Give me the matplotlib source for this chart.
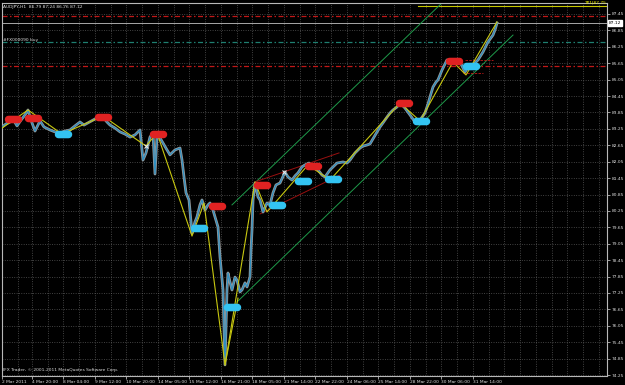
import numpy as np
import matplotlib
matplotlib.use("Agg")
import matplotlib.pyplot as plt
from matplotlib.path import Path
from matplotlib import font_manager

# ---------------- data ----------------
close_x = [2, 6, 10, 13, 17, 21, 25, 28, 31, 35, 40, 44, 50, 55, 60, 65, 70, 75, 80, 84, 88, 93, 97,
           103, 107, 110, 115, 120, 125, 130, 135, 140, 143, 146, 150, 153, 155, 157, 160, 163, 167,
           170, 175, 180, 182, 184, 186, 189, 192, 195, 197, 200, 202, 205, 208, 210, 213, 215, 218,
           220, 223, 225, 227, 228, 230, 232, 235, 237, 240, 242, 245, 247, 250, 251, 252, 253, 255,
           258, 260, 263, 267, 270, 273, 276, 280, 285, 288, 292, 295, 298, 302, 305, 309, 312, 315,
           318, 322, 325, 330, 334, 337, 343, 347, 350, 355, 360, 363, 367, 370, 374, 377, 380, 383,
           387, 390, 393, 397, 400, 405, 410, 415, 420, 425, 428, 430, 433, 436, 438, 442, 447, 450,
           453, 457, 460, 463, 465, 468, 471, 473, 478, 483, 486, 488, 493, 495, 497]
close_p = [83.32, 83.43, 83.50, 83.61, 83.36, 83.57, 83.76, 83.94, 83.57, 83.17, 83.54, 83.32, 83.21,
           83.14, 83.10, 83.17, 83.21, 83.36, 83.50, 83.39, 83.47, 83.57, 83.65, 83.68, 83.50, 83.39,
           83.28, 83.14, 83.06, 82.95, 83.03, 83.21, 82.11, 82.37, 82.95, 83.10, 81.60, 82.99, 82.92,
           82.73, 82.48, 82.30, 82.48, 82.55, 82.11, 81.49, 80.91, 80.65, 79.44, 79.85, 80.03, 80.47,
           80.65, 80.28, 80.47, 80.54, 80.28, 80.03, 79.66, 78.57, 77.36, 74.62, 77.36, 77.98, 77.65,
           77.36, 77.83, 77.72, 77.29, 77.36, 77.62, 77.47, 77.83, 78.82, 79.55, 80.65, 81.27, 80.76,
           80.65, 80.21, 80.54, 80.47, 80.91, 81.20, 81.27, 81.67, 81.49, 81.38, 81.53, 81.64, 81.86,
           81.93, 82.00, 81.82, 81.82, 81.75, 81.56, 81.49, 81.75, 81.89, 82.00, 82.04, 82.00, 82.11,
           82.37, 82.55, 82.62, 82.66, 82.70, 82.95, 83.14, 83.32, 83.47, 83.68, 83.83, 83.94, 84.05,
           84.20, 84.01, 83.76, 83.50, 83.57, 83.83, 84.16, 84.42, 84.78, 84.96, 85.04, 85.40, 85.77,
           85.70, 85.66, 85.77, 85.70, 85.48, 85.33, 85.51, 85.55, 85.59, 85.77, 86.06, 86.28, 86.43,
           86.68, 86.87, 87.12]

zigzag_x = [2, 28, 62, 103, 146, 157, 192, 204, 225, 255, 267, 308, 330, 400, 420, 453, 466, 497]
zigzag_p = [83.28, 83.94, 83.06, 83.72, 82.62, 83.10, 79.33, 80.54, 74.62, 81.31, 80.21, 81.93,
            81.38, 84.20, 83.54, 85.70, 85.22, 87.16]
zz_extra_x = [225, 238]
zz_extra_p = [74.62, 77.06]

red_x = [13, 33, 103, 158, 217, 262, 313, 404, 454]
red_p = [83.61, 83.65, 83.68, 83.06, 80.43, 81.20, 81.89, 84.20, 85.73]
cyan_x = [63, 199, 232, 277, 303, 333, 421, 471]
cyan_p = [83.06, 79.63, 76.74, 80.47, 81.34, 81.42, 83.54, 85.55]
cross_x = [146, 284]
cross_p = [82.62, 81.67]

green_up_x = [232, 470]
green_up_p = [80.47, 88.84]
green_lo_x = [237, 513]
green_lo_p = [76.92, 86.68]
redch_up_x = [255, 339]
redch_up_p = [81.31, 82.37]
redch_lo_x = [260, 340]
redch_lo_p = [80.14, 81.56]
short_red = [([465, 493], 85.77), ([463, 483], 85.29)]

level_red_top = 87.38
level_bid = 87.12
level_order = 86.43
level_sl = 85.55
level_tp = 87.74
tp_start = 418

ytick_vals = [74.25 + 0.6 * i for i in range(23)]
xtick_pos = [2, 32, 63, 95, 126, 158, 189, 221, 252, 284, 315, 347, 378, 410, 441, 473]
xtick_lab = ["2 Mar 2011", "4 Mar 20:00", "8 Mar 04:00", "9 Mar 12:00", "10 Mar 20:00",
             "14 Mar 05:00", "15 Mar 12:00", "16 Mar 21:00", "18 Mar 05:00", "21 Mar 14:00",
             "22 Mar 22:00", "24 Mar 06:00", "25 Mar 14:00", "28 Mar 22:00", "30 Mar 06:00",
             "31 Mar 14:00"]

# font: narrow if available
names = {f.name for f in font_manager.fontManager.ttflist}
fam = ["Liberation Sans Narrow", "DejaVu Sans"] if "Liberation Sans Narrow" in names else ["DejaVu Sans"]
plt.rcParams["font.family"] = fam
FS = 4.0 if fam[0] == "Liberation Sans Narrow" else 3.2
TXT = "#dcdcdc"

# ---------------- figure ----------------
fig = plt.figure(figsize=(6.25, 3.85), dpi=100, facecolor="black")
ax = fig.add_axes([2 / 625, 9 / 385, 605 / 625, 373 / 385], facecolor="black")
ax.set_xlim(2, 607)
ax.set_ylim(74.214, 87.852)

grid_c = "#6a6a6a"
minor_x = [p + 15.7 for p in xtick_pos] + [504, 520, 536, 551.5, 567, 583, 599]
for gx in xtick_pos + minor_x:
    ax.axvline(gx, color=grid_c, lw=0.5, ls=(0, (1.2, 2.2)), zorder=0)
for gy in ytick_vals:
    ax.axhline(gy, color=grid_c, lw=0.5, ls=(0, (1.2, 2.2)), zorder=0)

# horizontal levels
ax.axhline(level_red_top, color="#c01818", lw=0.9, ls=(0, (4, 2, 1.2, 2)), zorder=1)
ax.axhline(level_bid, color="#a8a8a8", lw=0.7, zorder=1)
ax.axhline(level_order, color="#1f7f70", lw=0.9, ls=(0, (4, 2, 1.2, 2)), zorder=1)
ax.axhline(level_sl, color="#c01818", lw=0.9, ls=(0, (4, 2, 1.2, 2)), zorder=1)
ax.plot([tp_start, 607], [level_tp, level_tp], color="#c8c800", lw=0.8, zorder=1)

# trend / channel lines
ax.plot(green_up_x, green_up_p, color="#1e9a4a", lw=0.7, zorder=2)
ax.plot(green_lo_x, green_lo_p, color="#1e9a4a", lw=0.7, zorder=2)
ax.plot(redch_up_x, redch_up_p, color="#9a1010", lw=0.7, zorder=2)
ax.plot(redch_lo_x, redch_lo_p, color="#9a1010", lw=0.7, zorder=2)
for xs, pv in short_red:
    ax.plot(xs, [pv, pv], color="#c01818", lw=0.6, ls=(0, (3, 1.5)), zorder=2)

# price
ax.plot(close_x, close_p, color="#9a9a9a", lw=2.0, zorder=3)
ax.plot(close_x, close_p, color="#2f8fc0", lw=0.9, zorder=4)
ax.plot(zigzag_x, zigzag_p, color="#c8c810", lw=0.8, zorder=5)
ax.plot(zz_extra_x, zz_extra_p, color="#c8c810", lw=0.8, zorder=5)

# blob markers
t = np.linspace(-np.pi / 2, np.pi / 2, 12)
right = np.column_stack([1.6 + np.cos(t), np.sin(t)])
left = np.column_stack([-1.6 - np.cos(t), -np.sin(t)])
verts = np.vstack([right, left, right[:1]])
blob = Path(verts, closed=True)
ax.plot(red_x, red_p, ls="none", marker=blob, ms=11.5, mfc="#e02222", mec="#e02222", zorder=6)
ax.plot(cyan_x, cyan_p, ls="none", marker=blob, ms=11.5, mfc="#33c4f2", mec="#33c4f2", zorder=6)
ax.plot(cross_x, cross_p, ls="none", marker="x", ms=3, mew=0.8, color="#e8e8e8", zorder=7)

# axes styling
for s in ax.spines.values():
    s.set_color("#b8b8b8")
    s.set_linewidth(0.8)
ax.yaxis.tick_right()
ax.set_yticks(ytick_vals)
ax.set_yticklabels([f"{v:.2f}" for v in ytick_vals])
ax.set_xticks(xtick_pos)
ax.set_xticklabels(xtick_lab, ha="left")
ax.tick_params(axis="both", colors=TXT, labelsize=FS, length=2, width=0.5, pad=1.0)
ax.tick_params(axis="y", pad=1.5)

# current price box
ax.text(609, level_bid, "87.12", transform=ax.transData, fontsize=FS, color="black",
        va="center", ha="left", clip_on=False,
        bbox=dict(boxstyle="square,pad=0.15", fc="white", ec="white"))

# texts
ax.text(3, 87.70, "AUDJPY,H1  86.79 87.24 86.76 87.12", fontsize=FS, color=TXT,
        va="center", ha="left")
ax.text(3, level_order + 0.06, "#FX000090 buy", fontsize=FS, color=TXT,
        va="center", ha="left")
ax.text(606, level_tp + 0.05, "TP1|87.75", fontsize=FS, color="#e8e800", va="bottom", ha="right")
ax.text(3, 74.45, "IFX Trader, © 2001-2011 MetaQuotes Software Corp.", fontsize=FS,
        color=TXT, va="center", ha="left")

fig.savefig("out.png", dpi=100, facecolor="black")
